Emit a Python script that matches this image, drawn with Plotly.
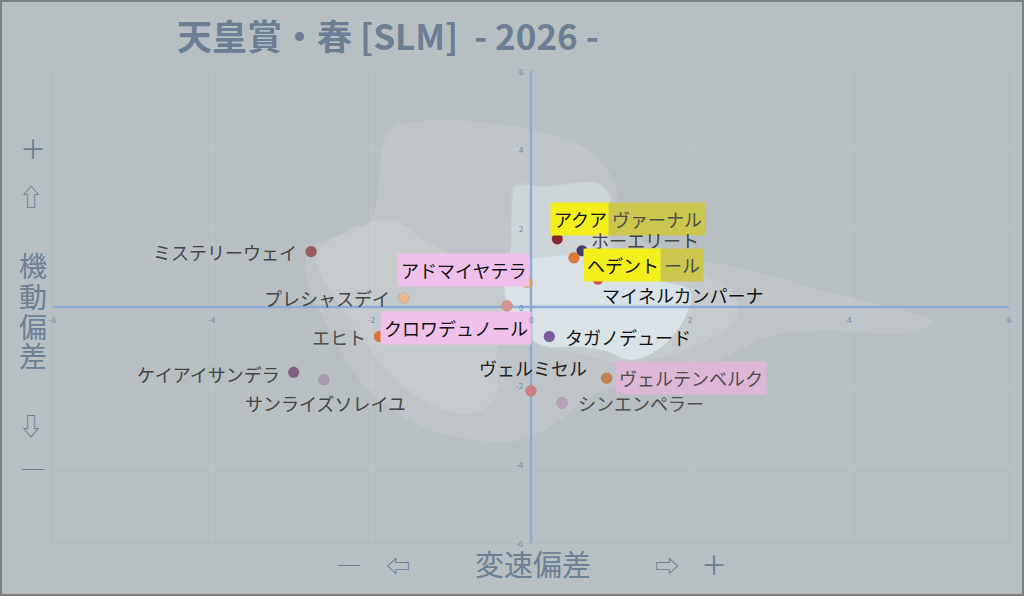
import plotly.graph_objects as go

# 馬ごとの偏差データ
horses = ['アクアヴァーナル', 'ホーエリート', 'ヘデントール', 'マイネルカンパーナ', 'アドマイヤテラ',
          'プレシャスデイ', 'クロワデュノール', 'ミステリーウェイ', 'エヒト', 'タガノデュード',
          'ヴェルミセル', 'ヴェルテンベルク', 'シンエンペラー', 'ケイアイサンデラ', 'サンライズソレイユ']
hensoku = [0.33, 0.64, 0.54, 0.84, -0.05, -1.60, -0.30, -2.76, -1.90, 0.23, 0.00, 0.95, 0.39, -2.98, -2.60]
kidou = [1.73, 1.43, 1.25, 0.71, 0.63, 0.23, 0.03, 1.41, -0.75, -0.75, -2.13, -1.81, -2.44, -1.66, -1.85]
dot_colors = ['#8b2a2a', '#4a3a6a', '#e07a30', '#d84a3a', '#f0a048', '#e8b890', '#d4958f', '#9a5c5c',
              '#e0702a', '#7a5a9e', '#d08080', '#c48050', '#b8a2b8', '#806080', '#ae98b4']

tick_vals = [-6, -4, -2, 0, 2, 4, 6]

# 背景の分布 (外側から)
blob1_x = [-1.74, -1.01, -0.01, 0.74, 1.06, 1.10, 1.62, 2.63, 3.63, 4.64, 5.04, 4.70, 3.76, 3.01, 2.63,
           2.13, 1.37, 0.74, 0.37, -0.13, -0.64, -1.39, -2.02, -2.52, -2.84, -2.67, -2.04, -1.92, -1.87]
blob1_y = [4.56, 4.74, 4.51, 3.95, 3.11, 2.35, 1.41, 1.00, 0.44, -0.07, -0.37, -0.68, -0.60, -0.73, -1.09,
           -1.54, -1.90, -2.28, -2.87, -3.38, -3.40, -3.02, -2.16, -0.63, 1.08, 1.64, 2.09, 2.98, 4.00]
blob2_x = [-2.21, -1.71, -1.39, -1.01, -0.64, -0.29, -0.25, -0.22, 0.18, 0.85, 1.01, 1.01, 1.37, 2.13, 2.57,
           2.57, 2.35, 2.00, 1.50, 1.02, 0.62, 0.18, -0.01, -0.39, -0.45, -0.76, -1.29, -1.77, -2.30, -2.67,
           -2.67, -2.46]
blob2_y = [2.02, 2.22, 1.76, 1.36, 1.23, 1.33, 2.35, 3.11, 3.09, 3.16, 2.86, 1.71, 1.31, 0.90, 0.24,
           -0.32, -0.70, -1.04, -1.34, -1.39, -1.19, -1.04, -0.88, -0.96, -2.31, -2.72, -2.46, -1.70, -0.27, 1.00,
           1.46, 1.76]
blob3_x = [-0.23, -0.20, 0.18, 0.83, 0.98, 0.98, 1.19, 1.62, 2.00, 1.95, 1.78, 1.56, 1.25, 0.93, 0.59,
           0.22, -0.08, -0.27, -0.31, -0.26]
blob3_y = [2.73, 3.06, 3.06, 3.14, 2.83, 1.59, 0.95, 0.64, 0.39, -0.20, -0.73, -1.14, -1.34, -1.11, -1.01,
           -1.01, -0.73, -0.20, 0.57, 1.15]
blob4_x = [-0.30, 0.12, 0.62, 1.12, 1.62, 2.00, 1.95, 1.78, 1.56, 1.25, 0.93, 0.59, 0.22, -0.08, -0.27]
blob4_y = [1.00, 1.25, 1.31, 1.10, 0.69, 0.39, -0.20, -0.73, -1.14, -1.34, -1.11, -1.01, -1.01, -0.73, -0.20]

BG = '#b8bfc2'
LABEL = '#6c8096'
FONT = 'Noto Sans CJK JP'
W, H = 1024, 596
ML, MR, MT, MB = 53, 15, 71, 53
PW, PH = W - ML - MR, H - MT - MB


def px(x):
    return (x - ML) / PW


def py(y):
    return 1 - (y - MT) / PH


fig = go.Figure()

blobs = [(blob1_x, blob1_y, 'rgba(255,255,255,0.09)'),
         (blob2_x, blob2_y, 'rgba(255,255,255,0.12)'),
         (blob3_x, blob3_y, 'rgba(232,246,252,0.24)'),
         (blob4_x, blob4_y, 'rgba(232,246,252,0.42)')]
for bx, by, fc in blobs:
    fig.add_trace(go.Scatter(x=bx + bx[:1], y=by + by[:1], mode='lines', fill='toself', fillcolor=fc,
                             line=dict(width=0, shape='spline', smoothing=1.0), hoverinfo='skip'))

# 軸 (原点を通る線)
fig.add_trace(go.Scatter(x=[tick_vals[0], tick_vals[-1]], y=[0, 0], mode='lines',
                         line=dict(color='#8eaad4', width=2.5), hoverinfo='skip'))
fig.add_trace(go.Scatter(x=[0, 0], y=[tick_vals[0], tick_vals[-1]], mode='lines',
                         line=dict(color='#8eaad4', width=2.5), hoverinfo='skip'))

fig.add_trace(go.Scatter(x=hensoku, y=kidou, mode='markers', text=horses,
                         marker=dict(size=11, color=dot_colors, line=dict(width=0.5, color='rgba(90,90,90,0.3)'))))

# ラベルの置き方: 名前 -> (xanchor, xshift, yshift, 文字色, 背景色)
label_style = {
    'ホーエリート': ('left', 5, 11, '#444444', None),
    'マイネルカンパーナ': ('left', 0, -16, '#111111', None),
    'アドマイヤテラ': ('right', 3, 12, '#111111', '#efc0ea'),
    'プレシャスデイ': ('right', -10, 0, '#444444', None),
    'クロワデュノール': ('right', 25, -22, '#111111', '#efc0ea'),
    'ミステリーウェイ': ('right', -10, 0, '#444444', None),
    'エヒト': ('right', -10, 0, '#4d4d4d', None),
    'タガノデュード': ('left', 12, 0, '#111111', None),
    'ヴェルミセル': ('center', 2, 23, '#222222', None),
    'ヴェルテンベルク': ('left', 8, 0, '#4d4d4d', '#dcb8d6'),
    'シンエンペラー': ('left', 12, 0, '#4d4d4d', None),
    'ケイアイサンデラ': ('right', -10, -2, '#444444', None),
    'サンライズソレイユ': ('center', 2, -23, '#444444', None),
}
# 二色に分かれたラベル
split_labels = {
    'アクアヴァーナル': ('アクア', 'ヴァーナル', 51, 20),
    'ヘデントール': ('ヘデント', 'ール', 86, -7),
}

for name, x, y in zip(horses, hensoku, kidou):
    if name in split_labels:
        a, b, xs, ys = split_labels[name]
        fig.add_annotation(x=x, y=y, text=a, showarrow=False, xanchor='right', yanchor='middle',
                           xshift=xs + 3, yshift=ys, bgcolor='#f2ef1c', borderpad=3,
                           font=dict(family=FONT, size=18, color='#111111'))
        fig.add_annotation(x=x, y=y, text=b, showarrow=False, xanchor='left', yanchor='middle',
                           xshift=xs, yshift=ys, bgcolor='#cbc64e', borderpad=3,
                           font=dict(family=FONT, size=18, color='#4d4d4d'))
        continue
    xa, xs, ys, tc, bg = label_style[name]
    fig.add_annotation(x=x, y=y, text=name, showarrow=False, xanchor=xa, yanchor='middle',
                       xshift=xs, yshift=ys, bgcolor=bg if bg else 'rgba(0,0,0,0)', borderpad=3,
                       font=dict(family=FONT, size=18, color=tc))

# 目盛り (原点の軸に沿って)
for t in tick_vals:
    fig.add_annotation(x=t, y=0, text=str(t), showarrow=False, xanchor='center', yanchor='middle',
                       yshift=-12, font=dict(family=FONT, size=8, color='#7088a8'))
    fig.add_annotation(x=0, y=t, text=str(t), showarrow=False, xanchor='right', yanchor='middle',
                       xshift=-5, font=dict(family=FONT, size=8, color='#7088a8'))

# タイトル
fig.add_annotation(xref='paper', yref='paper', x=px(388), y=py(35), text='<b>天皇賞・春 [SLM]  - 2026 -</b>',
                   showarrow=False, xanchor='center', yanchor='middle',
                   font=dict(family=FONT, size=35, color='#6b7e94'))

# 縦軸・横軸の説明
axis_marks = [('＋', 33, 147, 26), ('⇧', 31, 195, 24), ('機', 33, 265, 28), ('動', 33, 296, 28),
              ('偏', 33, 326, 28), ('差', 33, 355, 28), ('⇩', 31, 424, 24), ('―', 33, 467, 26),
              ('―', 349, 563, 26), ('⇦', 398, 564, 24), ('変速偏差', 533, 563, 29),
              ('⇨', 667, 564, 24), ('＋', 714, 563, 26)]
for txt, mx, my, sz in axis_marks:
    fig.add_annotation(xref='paper', yref='paper', x=px(mx), y=py(my), text=txt, showarrow=False,
                       xanchor='center', yanchor='middle', height=30 if len(txt) == 1 else None,
                       font=dict(family=FONT, size=sz, color=LABEL))

# 全体の枠
fig.add_shape(type='rect', xref='paper', yref='paper', x0=px(1), x1=px(W - 1), y0=py(H - 1), y1=py(1),
              line=dict(color='#7a7f82', width=2), layer='above')

fig.update_layout(
    width=W, height=H,
    margin=dict(l=ML, r=MR, t=MT, b=MB),
    paper_bgcolor=BG, plot_bgcolor=BG,
    showlegend=False,
    xaxis=dict(range=[tick_vals[0], tick_vals[-1]], tickvals=tick_vals, showticklabels=False,
               gridcolor='#bdc4c7', gridwidth=1, zeroline=False, showline=True, mirror=True,
               linecolor='#b2babd', fixedrange=True),
    yaxis=dict(range=[tick_vals[0], tick_vals[-1]], tickvals=tick_vals, showticklabels=False,
               gridcolor='#bdc4c7', gridwidth=1, zeroline=False, showline=True, mirror=True,
               linecolor='#b2babd', fixedrange=True),
)

fig.write_html('out.html', config={'displayModeBar': False},
               post_script="document.body.style.margin='0';")
